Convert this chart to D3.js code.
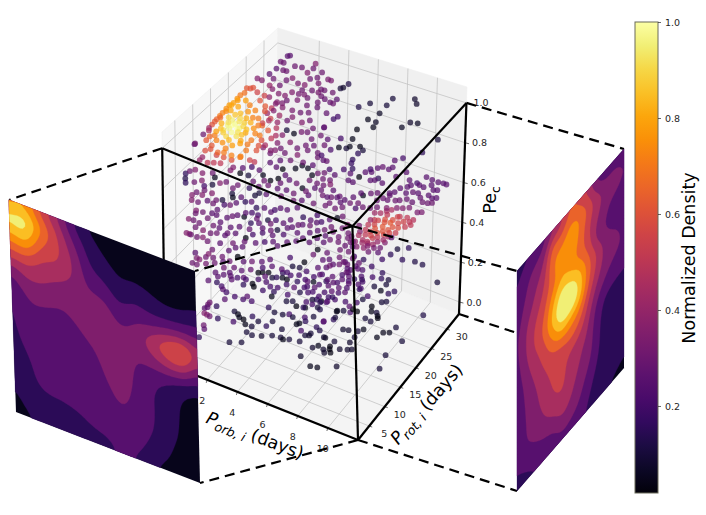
<!DOCTYPE html>
<html><head><meta charset="utf-8">
<script src="https://cdn.jsdelivr.net/npm/d3@7"></script>
<style>html,body{margin:0;padding:0;background:#fff}svg{display:block}text{font-family:"DejaVu Sans",sans-serif}</style>
</head><body><svg id="c" width="706" height="515"></svg>
<script>
// ---- axis ticks
const porbTicks=[2,4,6,8,10], protTicks=[5,10,15,20,25,30], peTicks=[0,0.2,0.4,0.6,0.8,1.0], cbarTicks=[0.2,0.4,0.6,0.8,1.0];
// ---- scatter values [Porb, Prot, density], grouped by Pe layer
const pe100=[[.5,21.7,.6],[.4,21.3,.6],[.2,21.1,.62],[.3,20,.68],[.2,19.2,.7],[.2,18.3,.75],[.2,17.2,.78],[.1,16.4,.78],[.1,15.5,.75],[.1,14.4,.72],[.1,13.6,.7],[.1,12.7,.65],[.1,12.1,.62],[.3,18,.78],[.2,16.6,.8],[.2,15,.74],[.2,13.3,.66],[.1,11.3,.6],
[2.1,16.1,.7],[1.6,17.4,.72],[1.1,18,.72],[.7,18.6,.78],[1.9,14.7,.82],[2.6,15,.65],[2.3,13.8,.75],[2.1,12.3,.8],[2.7,11.3,.7],[2.3,9.8,.78],[2,8.8,.78],[1.4,8.6,.75],[.7,9.4,.7],[1,7.2,.62],[.9,5.7,.58],[.5,7.8,.62],[1.6,6.3,.65],[1.9,6.8,.7],[2.4,6.8,.72],[2.9,7.3,.72],[2.9,8.9,.7],[3.4,9.7,.6],[3.5,7.3,.55],[3.2,12.1,.6],[3.1,14.5,.62],[2.9,12.9,.7],[2.7,17,.55],[1.9,19,.62],[1.4,19.7,.6],[2.3,19.1,.5],[.9,21.1,.55],[1.4,21,.55],
[.9,13.7,.95],[.9,12.4,.96],[1.5,12.5,1],[.9,11.1,.93],[1.4,11.3,.98],[1.2,14.7,.9],[1.6,14.2,.88],[1.3,10.1,.9],[1.8,10.9,.92],[.7,11.2,.85],[.6,14,.9],[1,15.7,.85],[1.6,12.7,.96],[1.1,12.7,1],
[.1,10.4,.42],[.2,9.9,.45],[.1,8.7,.3],[.1,6.1,.28],[.1,6.3,.32],[2.5,15.5,.55],[2.7,16.5,.45],[3.2,16.8,.4],[3.7,14.1,.45],[3.6,11.4,.45],[2.5,18.8,.35],[2.3,17.8,.4],[2.6,20.9,.33],[2.3,20.3,.35],[3.7,19,.35],[3.6,17.9,.3],[4.7,19.7,.3],[4.4,18.7,.35],[5.2,18.4,.3],[5.7,19.5,.3],[5.9,17.6,.3],[5.1,17.2,.3],[4.5,15.9,.05],[4,16,.1],[4,14.7,.35],[4.1,10.8,.35],[4.1,12.8,.35],[4.7,13.9,.35],[5.3,13.3,.3],[5.6,14.5,.3],[6.5,14,.3],[6.5,16,.3],
[.9,30.8,.25],[.8,30.5,.25],[.7,28.9,.3],[.9,28.9,.3],[.8,27.2,.25],[1.2,27.4,.3],[1.4,27.5,.3],[1.6,29.1,.3],[2,29.4,.3],[2.5,28.8,.35],[2.5,31.2,.35],[2.6,30.1,.3],[.3,23.8,.35],[.6,23.8,.35],[.7,25.6,.25],[1.2,23.4,.4],[1.7,24.2,.3],[1.8,25.7,.3],[2,26.6,.35],[2.5,26,.33],[2.9,26.2,.35],[3.2,28.6,.3],[3.5,27.6,.33],[2,22.5,.35],[2.4,22.6,.35],[2.6,23.8,.35],[3,25,.3],[3.5,25.7,.3],[3.9,25.8,.33],[1.7,21.1,.38],[2.7,21.8,.3],[3.2,22.7,.33],[3.9,22.4,.3],[4.3,23.8,.3],[2.3,20.7,.35],[2.8,20.1,.35],[3.4,20.3,.33],[3.9,20.5,.3],[4.3,21.1,.3],[4.5,22.8,.28],
[3.2,30,.3],[3.8,29.1,.33],[4,29.1,.33],[4.1,26.7,.3],[3.9,26.6,.3],[4.2,25.3,.3],[4.5,25,.28],[4.9,24.8,.28],[5.1,24.8,.3],[5.1,25.9,.25],[5.2,22.4,.27],[5.9,22.6,.2],[5.8,21.8,.18],[5.7,19.4,.25],[6.4,17.4,.25],[7,18.6,.2],[7,15.6,.22],[6.8,13.8,.2],[7.1,13,.25],[7.3,13.1,.28],[7.8,11.7,.2],
[4.8,28.3,.1],[4.9,28.7,.08],[5,29.8,.12],[6.5,26.1,.12],[6.9,27.7,.1],[7.8,28.6,.1],[7.8,30.4,.1],[8.9,32,.08],[9.2,31.2,.08],[7.8,26.5,.07],[7.5,24.4,.05],[8,24.5,.07],[8.1,23.3,.05],[9.5,25.5,.06],[9.7,27.1,.08],[10.1,27.5,.06],[7.4,21.6,.03],[7.6,19.4,.05],[11.8,25.9,.1],[7.3,16.7,.05],[7.7,17.1,.1],[7.8,17.7,.05],[8.3,18.5,.04],[8.6,18,.1],[8.5,17,.15],[8.5,15.4,.15],[8.6,14.6,.17],[8.9,13.6,.15],[10.6,18.5,.25],[10.9,19.6,.2],[11.6,22.2,.15],[9.8,14.9,.2],[10.1,15.7,.25],[10.3,16.3,.28],[10.7,16.3,.25],[10.8,17,.25],[8.5,12.8,.2],
[1.2,13.2,.98],[1.1,11.9,.97],[1.7,11.8,.92],[.8,13,.92],[1.3,14,.92],[.5,12.3,.82],[.6,10.3,.78],[1.7,13.4,.9],[2,13,.85],[2,11.6,.85],[1,10.6,.88],[1.6,9.6,.84],[2.2,10.4,.8],[1.5,15.2,.82],[.8,15,.86],[.4,15.5,.8],[.6,16.8,.8],[1.3,16.6,.76],[1.8,15.8,.72],[2.4,14.7,.7],[2.6,12.9,.72],[2.7,10.2,.7],[1,8.6,.72],[.5,8.8,.66],[1.8,7.7,.72],[3.3,10.8,.6],[3.6,13.2,.5],[3.4,15.6,.48],[1.1,6.4,.6],[2.1,18,.6],[3,18.3,.42],[4.5,12,.3],[4.8,16.8,.32],[5.6,16.2,.3],[6,15.1,.28],[3,24,.32],[3.6,23.9,.3],[1.1,25,.3],[1.5,22.9,.35],[4.6,26.9,.3],[2.9,27.8,.3],[3.3,24.3,.33]];
const pe90=[[.2,8,.4],[.2,7.2,.4],[.7,7.3,.5],[1,7.8,.5],[.8,9.5,.55],[.1,3.5,.15],[.3,2.5,.12],[.5,1.7,.15],[.4,5,.35],[.2,4.3,.3],[.9,2.5,.3],[.9,4.9,.35],[1.2,3.4,.35],[1.4,5.7,.3],[1.7,5,.05],[1.9,3.4,.1],[2.2,4.3,.35]];
const pe80=[[2.1,14.9,.5],[1.2,14.7,.7],[.9,13.5,.6],[.4,13.4,.6],[.5,12,.5],[.7,6.3,.2],[.9,5.5,.3],[1.4,5.5,.35],[1,4.4,.35],[.5,3.6,.35],[.6,4.5,.3],[.7,2.6,.35],[1.1,2.7,.3],[1.5,3.7,.25],[1.9,3.6,.3],[1.9,4.5,.3],[2.2,5,.1],[2.2,8.1,.3],[2.4,7,.1],[2.6,6.3,.05],[2.3,9.1,.3],[3,7,.25],[3,9.4,.15],[3.6,8.4,.1],[3.7,9.2,.1],[1.3,12.2,.35],[1.3,11.4,.35],[1.8,12.8,.25],[2.2,13.7,.2],[2.7,13.7,.25],[1.9,11.6,.03],[2.4,11.8,.1],[3.1,13,.05],[3.7,12.5,.03],[4,13.5,.03],[3.8,15.7,.02],[4.2,14.7,.25],[4.6,14.1,.25],[4.4,16.8,.05],[4.6,17.9,.05],[5,17.8,.05],[5.1,14,.3],[5.6,15.6,.3],[5.7,17.6,.3],[5.5,16.8,.05],[6.1,15.6,.3],[5.6,13.5,.05],[6.2,14.5,.25],[4.4,11.5,.25],[3.8,11.4,.3],[4.9,11.9,.25],[5.7,10.4,.3],[6.1,11.1,.25],[6.2,12.6,.25],[2.9,16,.25],[3.3,17.2,.25],[2.5,17.8,.3],[1.9,18.4,.35],[2.6,18.8,.35],[3.2,19,.3],[3.8,18,.3],[3.9,19.6,.35],[4.2,21.3,.3],[5,20.7,.3],[4.5,18.6,.3],[5.1,18.8,.25],[3.4,15.6,.25],[6,18.2,.3],[6.6,18.6,.25],[6.6,17.2,.3],[6.2,16.9,.3],[7.3,20.1,.25],[6.5,15.7,.3],[6.8,16.4,.35],[7.5,18.6,.25],[7.8,18.6,.25],[7.2,15.5,.25],[7.7,14.4,.25],[7.4,14,.3],[6.9,13.7,.3],[7.2,13.7,.25],
[1.6,8.8,.3],[2.9,11,.28],[3.4,10.4,.28],[4.1,9.5,.25],[4.9,10.3,.3],[5.4,11.8,.3],[5.9,13.2,.3],[6.6,14.6,.28],[4.3,12.8,.28],[3.4,12,.3]];
const pe65=[[6.6,25.8,.02],[6.7,27.2,.25],[7,27.7,.25],[7.6,27,.15],[7.3,26,.25],[7.5,26.4,.25],[8,26.4,.25],[8.4,28.7,.25],[8.7,30.4,.25],[9.2,29.1,.25],[9.4,27.6,.25],[9.1,26.8,.25],[9,25.6,.25],[8.8,25,.25],[9.7,29.1,.2],[9.9,28.9,.25],[10.2,28.8,.25],[9.9,31,.25],[10.3,30.9,.25],[10.7,30.9,.25],[11,31.1,.25],[11.2,31.1,.25],[9.9,27,.27],[10.2,27.2,.25],[10.8,27.6,.25],[10.8,29,.25],[11,29.3,.25],[11.1,27.3,.25],[11.3,27.7,.25],[10.8,25.8,.3],[11.1,26,.3],[11.3,26.4,.3],[10.3,25,.28],[9.9,25.2,.28],[9.6,24.4,.3],[9.4,24,.3],[9,23.5,.28],[8.7,23.5,.28],[8.5,22.6,.28],[7.6,22.5,.05],[7.2,21.4,.25],[6.9,20.2,.25],[6.8,19.4,.25],[7.1,18.6,.3],[6.3,18.4,.3],[6.8,17.8,.3],[6.2,17.6,.3],[7.3,20,.3],[7.7,20.6,.3],[7.8,19.4,.2],[8.1,20.2,.3],[8.5,20.6,.3],[8.8,21.3,.3],[9.3,21.9,.35],[9.8,22.7,.35],[10.1,23.1,.35],[10.4,23.7,.33],[11,23.4,.33],[11.2,23.8,.33],
[.1,6.6,.35],[.2,6,.3],[.1,4.4,.35],[.4,4.5,.3],[1,6,.3],[.5,6.8,.3],[1,7.3,.25],[1.3,7.3,.25],[1.1,8.4,.25],[.8,4.4,.3],[.8,3.3,.3],[.6,1.5,.35],[.8,1.5,.35],[.9,1.5,.3],[1.3,1.5,.3],[1.6,1.9,.35],[1.8,3.3,.3],[2.1,3.8,.3],[1.3,3.3,.35],[1.6,5,.3],[2,5,.25],[1.8,6.2,.25],[2.6,4,.25],[2,1.5,.3],[2.7,2.1,.25],
[8.2,24.1,.28],[8.9,24.6,.27],[7.9,23.5,.28],[7.4,22.8,.25],[6.5,20.5,.28],[9.6,26.3,.25],[10.5,26.5,.27],[9.5,28.2,.25],[10.5,29.8,.25]];
const pe60=[[1.3,13.1,.25],[1.1,12.2,.3],[.8,11.8,.2],[1.7,14,.15],[2,14.5,.25],[1.5,9.5,.25],[1.9,10.8,.25],[2.3,11,.05],[2.5,12.4,.2],[2.9,12.4,.2],[2.5,13.7,.15],[2.9,14.3,.25],[3.4,14,.25],[3.5,14.7,.2],[3.7,15.5,.25],[4.1,15.7,.25],[4.5,16.9,.25],[5.2,15.5,.15],[5.8,17,.2],[5.7,15.5,.25],[6.1,15.5,.25],[5.5,14,.25],[5.1,12.7,.25],[4.5,12.8,.25],[4,12.8,.2],[3.6,12.2,.1],[3.3,10.9,.25],[2.9,10.3,.15],[2.5,8.7,.25],[2.1,7.9,.25],[2.6,7.1,.25],[3.3,7,.03],[3.5,8.2,.2],[3.9,9.3,.2],[4.5,9.6,.25],[4.5,11,.1],[4.9,12.2,.25],[5.6,12,.25],[6.1,11.4,.25],[6.2,13,.25],[6.8,12.5,.25],[4.4,7.7,.2],[4,6.8,.25],[2.9,5,.3],[5.5,9.4,.25],[5.1,19,.3],[6.3,16,.2],[6.6,17.1,.25],[6.9,18,.05],[7.1,18.7,.3],[7.7,17.5,.35],[7.6,16.4,.3],[7.3,15,.3],[6.8,14.7,.3],[7.8,14.4,.3],[7.5,13.2,.3],[8.3,14.9,.3],[8.7,14.6,.3],[7.3,12.2,.25],
[1.7,10.2,.28],[2.2,11.9,.25],[3,11.6,.28],[3.9,11.7,.3],[4.7,14,.25],[5.3,13.6,.28],[5.9,14.4,.3],[6.5,14,.25],[7,15.8,.3],[7.1,13.6,.25],[3.1,9,.28],[3.7,10.2,.25],[4.2,10.4,.28],[5,10.6,.22],[3.4,6.2,.28],[4.8,8.4,.25],[5.2,7.9,.25],[5.9,10.3,.25],[6.6,11.1,.25],[2.2,6.5,.28],[8,13.4,.3],[8.1,15.9,.3],[8.5,13.2,.28],[8.9,13.6,.25]];
const pe45=[[.5,3.7,.3],[.8,3.7,.3],[.7,4.9,.35],[.2,5.9,.25],[.9,5.9,.3],[.9,6.7,.35],[1.3,6.3,.3],[.9,7.8,.3],[1.2,4.6,.32],[1.6,5.4,.3],[1.7,7.2,.3],[.5,5,.33]];
const pe40=[[7.5,31.4,.45],[8.2,30.7,.5],[8.6,31.1,.5],[9,31.1,.48],[9.1,29.9,.5],[8.6,30,.55],[8.1,30.5,.55],[8,29.5,.58],[7.5,30.1,.5],[7.1,29.9,.45],[6.8,29.5,.42],[7.7,28.4,.6],[8.3,28.1,.6],[8.6,28.4,.58],[8.9,29.1,.52],[8.7,27.2,.52],[8.2,27.2,.6],[7.8,27.4,.62],[7.3,27.2,.55],[7,26.7,.5],[7.4,25.5,.55],[7.8,25.8,.58],[8.2,25.9,.55],[8.5,25.9,.45],[7.8,24.4,.52],[7.3,24.5,.5],[7.4,23.3,.45],[7.7,23.3,.47],[8.1,23.2,.42],[6.9,24.7,.35],[7.8,21.8,.38],[7.4,21.5,.35],[8.2,24.1,.4],[8.6,24.5,.35],[8.2,21.4,.3],[8.6,23.1,.3],[8.7,26,.25],[9.5,24.2,.1],[10,25.3,.15],
[7.6,29,.58],[8,28.8,.62],[8.4,29.3,.56],[7.3,28.3,.55],[7.1,28.1,.52],[7.5,26.5,.6],[8,26.5,.6],[8.4,26.7,.56],[7.1,25.5,.5],[7.6,24.8,.55],[8,25,.5],[7,23.9,.45],[7.5,22.7,.42],[7.1,22.4,.38],[7.8,23,.42],[7.9,22.5,.35],[7.3,30.8,.45],[8.9,30.4,.5],[6.9,27.8,.42],[8.4,24.9,.42],[6.6,25.8,.33],[6.7,23.1,.3],[6.9,21.9,.3],[8.3,22.6,.32]];
const pe35=[[.9,12.7,.25],[1.1,13.8,.25],[1.4,14.5,.25],[1.1,10.1,.25],[1.4,10.7,.3],[1.6,12.2,.02],[2.1,11.7,.25],[2.5,12.4,.3],[1.4,9,.3],[1.2,7.4,.25],[1.5,6.8,.25],[1.7,7.6,.25],[1.9,8.5,.25],[1.2,5.3,.25],[1.7,5.6,.15],[2.1,5.2,.2],[2.3,4.7,.25],[2.3,7.3,.25],[2.5,8.1,.2],[3.1,7.2,.15],[3.5,8.1,.03],[3.7,7.6,.02],[2.8,8.6,.25],[3.3,10.7,.03],[3.5,11.1,.03],[3.8,11.5,.03],[3.3,12,.2],[3.3,14.2,.25],[3.8,10.5,.25],[4.2,10.8,.1],[4.4,11.2,.15],[4.7,11.6,.05],[5,11.6,.03],[4.5,12.6,.15],[4.7,13,.2],[4.2,16.1,.2],[4.7,14.6,.1],[5.1,16.3,.03],[5.1,14.9,.1],[5.6,14.7,.2],[5.2,18.5,.3],[5.2,19.8,.03],[5.9,18.2,.25],[6.2,18.8,.25],[6.6,18.1,.25],[6,16.3,.25],[6.4,17,.25],[6.2,14.2,.2],[6.5,15.3,.2],[7.1,15.7,.25],[6.4,13.2,.05],[5.9,13,.2],[5.6,12,.15],[7,14.3,.15],[7.6,14.9,.2],[2.6,4.4,.2],[3.2,4.2,.2],[3.8,5.2,.25],[4.5,8.9,.2],[4.9,8.2,.15],[5,7.1,.05],[4.9,9.3,.2],[5.7,8.7,.2],[6.2,10.1,.12],[6.2,11.4,.2],[6.6,10.7,.2],[8,11.7,.15],[7.4,14.6,.25],[7,14.7,.25],[7.7,15.9,.25],[7.5,16.8,.2],[6.4,15.1,.25],[6.3,11.8,.2],[6.7,12.2,.25],[7.4,12,.2],[7.7,12.8,.25],[8.1,13,.2],[8.4,13.6,.25],[7,19.4,.3],[7.7,18.4,.25],[6.3,21.5,.3],[6.8,21.8,.3],
[6.5,17.6,.3],[6.9,18.6,.3],[7.3,19.2,.28],[7.6,17.6,.28],[7.9,17,.25],[8.2,15.6,.25],[8.3,14.6,.22],[7.9,14,.25],[7.3,13.6,.25],[6.8,13.1,.22],[6.1,12.8,.25],[5.4,13.4,.2],[5,12.7,.2],[4.3,13.2,.25],[3.7,13,.25],[3,13.1,.25],[2.8,10.7,.28],[2.4,9.8,.25],[1.9,9.8,.28],[2.1,7.9,.25],[3,8.4,.2],[3.6,9.4,.2],[4.1,9.5,.22],[4.3,7.6,.18],[5.2,10.6,.18],[5.7,10.6,.25],[6.8,11.2,.2],[7.3,10.8,.2],[7.8,11.4,.18],[5.8,19.9,.28],[6.6,20,.3],[7.3,20.8,.3],[7.8,20.4,.28],[8,19.2,.25],[8.5,18,.22],[8.8,17,.2],[9,15.6,.2],[8.7,16.2,.22]];
const pe20=[[9.2,30.7,.12],[8.5,30.1,.15],[7.5,28.6,.18],[7.7,30.2,.15],[9.7,30.7,.12],[7,29.6,.25],[6.6,27.1,.15],[6,27,.2],[7.3,26.4,.18],[11.2,28.4,.1],[8.7,25.1,.1],[8.8,24,.1],[8.1,26,.15],[8.3,22.7,.1],[8.8,22.4,.05],[9.3,22.4,.15],[9.5,23.3,.15],[7.4,23.1,.12],[7,22.6,.15],[7.7,21,.15],[8.4,20.3,.2],[8.3,19.3,.1],[6.5,25.2,.25],[7,25,.22],[7.8,24.4,.2],[6.4,23.4,.22],[6.8,21.8,.2],[8.3,24.8,.15],[5.8,25.2,.22],[6.2,24.1,.22]];
const pe10=[[.7,12.4,.25],[1.6,13.8,.2],[2.1,14.1,.2],[3.8,16.8,.1],[4.1,17.3,.1],[4.5,16.6,.03],[5,17,.05],[5.2,19.5,.15],[5.5,19.5,.05],[5.6,18,.1],[5.8,19.7,.2],[6.7,18.7,.05],[6.9,16.9,.15],[6.5,15.7,.2],[5.8,15.9,.1],[1.7,10.8,.1],[2,10.5,.05],[2.2,10,.05],[2.5,9.9,.03],[2.1,8.7,.2],[2.8,11.2,.15],[3.3,10.7,.1],[3.2,9.2,.1],[2.8,9.1,.05],[3.2,14.2,.15],[3.7,13.7,.1],[4.2,13.9,.1],[3.9,10.4,.15],[4,11.8,.1],[4.5,14.5,.2],[4.8,14.2,.1],[5.3,13.1,.05],[5.4,13.5,.05],[5.4,15.1,.2],[6.4,14.1,.15],[6.2,11.6,.1],[6.4,12.4,.1],[7.3,12.7,.05],[4.8,11,.1],[5.1,9.3,.1],[3.2,7.7,.1],[3.6,7.5,.1],[4.1,8.1,.08],[4.6,9,.1],[3.4,5.3,.1],[2.8,4.4,.1],[7.9,12.7,.1],[6.2,10,.1],[5.6,9.6,.1],[5.3,9.1,.05],[.1,10.1,.3],[.1,10.6,.3],[.1,9.1,.25],[.2,9.5,.25],[.3,8.1,.35],[.5,8,.35],[.7,7.9,.3],[.6,10.4,.15],[1.2,8.1,.15],[.8,5.7,.3],[1,5,.25],[1.1,3,.15],
[8.7,24.5,.1],[8.5,24,.1],[8.2,22.4,.03],[8.4,21.4,.05],[8.7,21.6,.1],[8.9,21,.05],[9,20.6,.03],[8.4,19.6,.1],[8.8,19.4,.1],[11.1,24.7,.12],[10.3,20.2,.1],[10.2,18.7,.05],[9.9,18.2,.05],[9.8,16.8,.05],[11.2,18,.1],[11,14,.1],[11.3,10.9,.1],[8.8,17.3,.05],[8.6,16.5,.1],[8.7,15.1,.1],[8.7,13.7,.08],[9.1,12.5,.08],[8.9,12.1,.08],[8.5,11.6,.08],[7.8,15.7,.08],[8.1,16,.08],[7.9,11.4,.03],[8,10.8,.03],[8.2,10.2,.03],[7.7,10.3,.08],[7.3,10.6,.05],[7.9,9.7,.08],[7.1,9.8,.08],[7.2,12.7,.08],[6.7,13.7,.12],[6.4,11.9,.08],[6.5,15.8,.25],[6.9,17.4,.1],[5.8,12.2,.2],[5.6,14.4,.15],[7.8,6,.05],[8.2,6.3,.05],[9.1,8,.08],[7.4,19.6,.2],[6.7,18.9,.05],[7,19.4,.1],[7.4,20.4,.02],[7.7,20.3,.02],[6.9,7.2,.08],[6.7,21.3,.2],[7.1,20.7,.25],[7.3,22,.2],[6.1,20.9,.2],[5.8,20,.25],[5.5,19.2,.15],[5,19.1,.1],[4.8,18.2,.2],[4.9,16.9,.15],[5.2,18.2,.2],[5.8,17.8,.12]];
// ---- left projected density, rows top to bottom, columns left to right
const leftDensity=[
[.74,.78,.55,.40,.20,.09,.05,.03,.02,.02,.02,.02,.02],
[.97,1.0,.72,.52,.30,.16,.09,.05,.04,.03,.02,.02,.02],
[.74,.85,.58,.54,.40,.20,.15,.09,.10,.08,.05,.05,.08],
[.55,.56,.47,.47,.41,.27,.24,.14,.19,.15,.12,.13,.17],
[.30,.42,.41,.36,.33,.34,.34,.23,.28,.26,.30,.33,.32],
[.22,.31,.33,.30,.32,.36,.38,.31,.34,.48,.62,.74,.46],
[.18,.29,.26,.25,.28,.32,.36,.37,.31,.36,.44,.46,.27],
[.18,.25,.24,.24,.25,.27,.33,.38,.28,.23,.19,.13,.09],
[.17,.22,.23,.23,.24,.25,.30,.37,.27,.20,.16,.08,.05],
[.12,.20,.22,.22,.23,.24,.26,.33,.26,.21,.15,.08,.04],
[.12,.19,.21,.21,.22,.23,.24,.27,.25,.21,.13,.08,.04],
[.08,.15,.18,.18,.185,.21,.22,.24,.24,.17,.11,.05,.03],
[.05,.09,.13,.14,.13,.16,.17,.22,.19,.10,.07,.04,.03]];
// ---- right projected density, rows top to bottom, columns left to right
const rightDensity=[
[.16,.18,.20,.25,.35,.45,.60,.55,.45,.25,.20,.20,.20],
[.19,.27,.32,.36,.66,.62,.75,.72,.60,.45,.38,.41,.30],
[.22,.30,.38,.44,.70,.78,.78,.70,.50,.42,.32,.27,.25],
[.25,.35,.42,.52,.64,.78,.73,.65,.55,.33,.28,.22,.17],
[.27,.40,.50,.57,.78,.95,.93,.85,.65,.50,.35,.33,.27],
[.26,.40,.52,.62,.85,1.05,1.08,.90,.62,.45,.35,.32,.29],
[.24,.37,.46,.55,.70,.84,.75,.70,.50,.35,.28,.24,.23],
[.21,.33,.41,.50,.55,.55,.62,.55,.42,.25,.17,.17,.17],
[.22,.31,.37,.46,.52,.55,.45,.42,.38,.22,.15,.14,.13],
[.22,.30,.36,.42,.50,.53,.45,.40,.35,.22,.14,.13,.12],
[.22,.30,.33,.38,.42,.48,.42,.35,.28,.19,.14,.13,.12],
[.21,.23,.26,.28,.30,.38,.35,.30,.22,.15,.13,.12,.11],
[.15,.17,.19,.20,.20,.25,.24,.22,.18,.12,.10,.09,.08]];
const bandThresholds=[.1,.2,.3,.4,.5,.6,.7,.8,.9];

// ---- layout
const box={ // pane corners on screen: [Porb side][Prot side][Pe side]
 f000:[165,363],f100:[358,440],f110:[459,314],f010:[275,240],
 f001:[162,132],f101:[352,210],f111:[467,87],f011:[278,28]};
const leftPanel=[[9,200],[195,271],[200,483],[16,412]];
const rightPanel=[[517,271],[624,149],[624,368],[517,491]];
const cbar={x:635,y:22,w:23,h:471};
const sx=d3.scaleLinear().domain([-.8,12]).range([0,1]);
const sy=d3.scaleLinear().domain([1.4,33.9]).range([0,1]);
const sz=d3.scaleLinear().domain([-.06,1.08]).range([0,1]);
function tri(u,v,w){
  const lerp=(a,b,t)=>[a[0]+(b[0]-a[0])*t,a[1]+(b[1]-a[1])*t];
  const b0=lerp(lerp(box.f000,box.f100,u),lerp(box.f010,box.f110,u),v);
  const b1=lerp(lerp(box.f001,box.f101,u),lerp(box.f011,box.f111,u),v);
  return lerp(b0,b1,w);
}
const pBox=(x,y,z)=>tri(sx(x),sy(y),sz(z));
const pPoint=(x,y,z)=>{const u=sx(x),v=sy(y),w=sz(z);return [165+193*u+110*v,363+77*u-123*v-222*w];};

const svg=d3.select('#c');
const xA=sx.domain()[0],xB=sx.domain()[1],yA=sy.domain()[0],yB=sy.domain()[1],zA=sz.domain()[0],zB=sz.domain()[1];
const line=d3.line();
// panes
const panes=svg.append('g');
const pane=(pts,fill)=>panes.append('path').attr('d',line(pts)+'Z').attr('fill',fill).attr('stroke','#f0f0f0').attr('stroke-width',.6);
pane([pBox(xA,yA,zA),pBox(xA,yB,zA),pBox(xA,yB,zB),pBox(xA,yA,zB)],'#f7f7f7');
pane([pBox(xA,yB,zA),pBox(xB,yB,zA),pBox(xB,yB,zB),pBox(xA,yB,zB)],'#f0f0f0');
pane([pBox(xA,yA,zA),pBox(xB,yA,zA),pBox(xB,yB,zA),pBox(xA,yB,zA)],'#f4f4f4');
// grid
const gridG=svg.append('g').attr('fill','none').attr('stroke','#c4c4c4').attr('stroke-width',.8);
const gl=pts=>gridG.append('path').attr('d',line(pts));
porbTicks.forEach(t=>{gl([pBox(t,yA,zA),pBox(t,yB,zA),pBox(t,yB,zB)]);});
protTicks.forEach(t=>{gl([pBox(xB,t,zA),pBox(xA,t,zA),pBox(xA,t,zB)]);});
peTicks.forEach(t=>{gl([pBox(xA,yA,t),pBox(xA,yB,t),pBox(xB,yB,t)]);});
// scatter
const layers=[[.1,pe10],[.2,pe20],[.35,pe35],[.4,pe40],[.45,pe45],[.6,pe60],[.65,pe65],[.8,pe80],[.9,pe90],[1,pe100]];
const points=layers.flatMap(([pe,rows])=>rows.map(r=>({porb:r[0],prot:r[1],pe,d:r[2]})));
svg.append('g').selectAll('circle').data(points).join('circle')
 .attr('cx',d=>pPoint(d.porb,d.prot,d.pe)[0]).attr('cy',d=>pPoint(d.porb,d.prot,d.pe)[1])
 .attr('r',2.9).attr('fill',d=>d3.interpolateInferno(d.d)).attr('fill-opacity',.72);
// ticks
const tcol='#262626';
const tickG=svg.append('g').attr('font-size',9.5).attr('fill',tcol);
porbTicks.forEach(t=>{const p=pBox(t,yA,zA);
  tickG.append('line').attr('x1',p[0]).attr('y1',p[1]).attr('x2',p[0]-1).attr('y2',p[1]+3).attr('stroke',tcol).attr('stroke-width',.7);
  tickG.append('text').attr('x',p[0]-5).attr('y',p[1]+24).attr('text-anchor','middle').text(t);});
protTicks.forEach(t=>{const p=pBox(xB,t,zA);
  tickG.append('line').attr('x1',p[0]).attr('y1',p[1]).attr('x2',p[0]+3).attr('y2',p[1]+1).attr('stroke',tcol).attr('stroke-width',.7);
  tickG.append('text').attr('x',p[0]+15).attr('y',p[1]+11).attr('text-anchor','middle').text(t);});
peTicks.forEach(t=>{const p=pBox(xB,yB,t);
  tickG.append('line').attr('x1',p[0]).attr('y1',p[1]).attr('x2',p[0]+4).attr('y2',p[1]+1).attr('stroke',tcol).attr('stroke-width',.7);
  tickG.append('text').attr('x',p[0]+7).attr('y',p[1]+3.5).text(t.toFixed(1));});
// black frame
const frameTop=[pBox(xA,yA,1),pBox(xB,yA,1),pBox(xB,yB,1)], frameBot=[pBox(xA,yA,zA),pBox(xB,yA,zA),pBox(xB,yB,zA)];
const frameG=svg.append('g').attr('fill','none').attr('stroke','#000').attr('stroke-width',2.2);
[[frameTop[0],frameTop[1]],[frameTop[1],frameTop[2]],[frameTop[2],frameBot[2]],[frameBot[2],frameBot[1]],[frameBot[1],frameTop[1]],[frameBot[1],frameBot[0]],[frameTop[0],frameBot[0]]].forEach(s=>frameG.append('path').attr('d',line(s)));
// dashed connectors
const dashG=svg.append('g').attr('fill','none').attr('stroke','#000').attr('stroke-width',2.2).attr('stroke-dasharray','10,6');
[[frameTop[0],leftPanel[0]],[frameTop[1],leftPanel[1]],[frameBot[1],leftPanel[2]],[frameBot[0],leftPanel[3]],
 [frameTop[2],rightPanel[1]],[frameTop[1],rightPanel[0]],[frameBot[1],rightPanel[3]],[frameBot[2],rightPanel[2]]].forEach(s=>dashG.append('path').attr('d',line(s)));
// density panels
function drawPanel(grid2,corners){
  const rows=grid2.length,cols=grid2[0].length,f=6,w=(cols-1)*f+1,h=(rows-1)*f+1;
  const vals=new Float64Array(w*h);
  for(let j=0;j<h;j++)for(let i=0;i<w;i++){
    const x=i/f,y=j/f,x0=Math.min(Math.floor(x),cols-2),y0=Math.min(Math.floor(y),rows-2),tx=x-x0,ty=y-y0;
    vals[j*w+i]=(grid2[y0][x0]*(1-tx)+grid2[y0][x0+1]*tx)*(1-ty)+(grid2[y0+1][x0]*(1-tx)+grid2[y0+1][x0+1]*tx)*ty;
  }
  if(d3.blur2) d3.blur2({data:vals,width:w,height:h},1.6);
  const map=(x,y)=>{
    const a=Math.max(0,Math.min(1,(x-.5)/(w-1))),b=Math.max(0,Math.min(1,(y-.5)/(h-1)));
    const t=[corners[0][0]+(corners[1][0]-corners[0][0])*a,corners[0][1]+(corners[1][1]-corners[0][1])*a];
    const u=[corners[3][0]+(corners[2][0]-corners[3][0])*a,corners[3][1]+(corners[2][1]-corners[3][1])*a];
    return [t[0]+(u[0]-t[0])*b,t[1]+(u[1]-t[1])*b];
  };
  const path=d3.geoPath(d3.geoTransform({point(x,y){const p=map(x,y);this.stream.point(p[0],p[1]);}}));
  const g=svg.append('g');
  g.append('path').attr('d',line(corners)+'Z').attr('fill',d3.interpolateInferno(.05));
  const cs=d3.contours().size([w,h]).smooth(true).thresholds(bandThresholds)(vals);
  cs.forEach(c=>g.append('path').attr('d',path(c)).attr('fill',d3.interpolateInferno(c.value+.05)).attr('stroke',d3.interpolateInferno(c.value+.05)).attr('stroke-width',.3));
}
drawPanel(leftDensity,leftPanel);
drawPanel(rightDensity,rightPanel);
// faint connector seen through the right panel
const ln=d3.interpolate(frameBot[2],rightPanel[2]);
const fa=(rightPanel[0][0]-frameBot[2][0])/(rightPanel[2][0]-frameBot[2][0]);
svg.append('path').attr('d',line([ln(fa),ln(1)])).attr('stroke','#000').attr('stroke-opacity',.22).attr('stroke-width',2.2).attr('stroke-dasharray','10,6').attr('fill','none');
// axis labels
function mathLabel(x,y,rot,sub){
  const t=svg.append('text').attr('transform',`translate(${x},${y}) rotate(${rot})`).attr('text-anchor','middle').attr('font-size',17.5).attr('fill','#000');
  t.append('tspan').attr('font-style','italic').text('P');
  t.append('tspan').attr('font-style','italic').attr('font-size',12.5).attr('dy',4).text(sub);
  t.append('tspan').attr('dy',-4).attr('dx',5).text('(days)');
}
mathLabel(253,441,21,'orb, i');
mathLabel(431,408,-49,'rot, i');
const pel=svg.append('text').attr('transform','translate(496,200) rotate(-90)').attr('text-anchor','middle').attr('font-size',17.5).attr('fill','#000');
pel.append('tspan').text('Pe');
pel.append('tspan').attr('font-size',12.5).attr('dy',4).text('c');
// colorbar
const defs=svg.append('defs');
const cbScale=d3.scaleLinear().domain([.0187,1]).range([cbar.y+cbar.h,cbar.y]);
const gr=defs.append('linearGradient').attr('id','cb').attr('x1',0).attr('x2',0).attr('y1',1).attr('y2',0);
d3.range(0,1.0001,.05).forEach(t=>gr.append('stop').attr('offset',t).attr('stop-color',d3.interpolateInferno(.0187+t*(1-.0187))));
svg.append('rect').attr('x',cbar.x).attr('y',cbar.y).attr('width',cbar.w).attr('height',cbar.h).attr('fill','url(#cb)').attr('stroke','#6a6a5a').attr('stroke-width',1);
const axR=d3.axisRight(cbScale).tickValues(cbarTicks).tickSize(3).tickPadding(4).tickFormat(d3.format('.1f'));
const axG=svg.append('g').attr('transform',`translate(${cbar.x+cbar.w},0)`).call(axR);
axG.select('.domain').remove();
axG.selectAll('text').attr('font-size',9.5).attr('fill',tcol).attr('font-family','"DejaVu Sans",sans-serif');
axG.selectAll('line').attr('stroke',tcol).attr('stroke-width',.7);
svg.append('text').attr('transform','translate(695,258) rotate(-90)').attr('text-anchor','middle').attr('font-size',17.5).attr('fill','#000').text('Normalized Density');
</script></body></html>
